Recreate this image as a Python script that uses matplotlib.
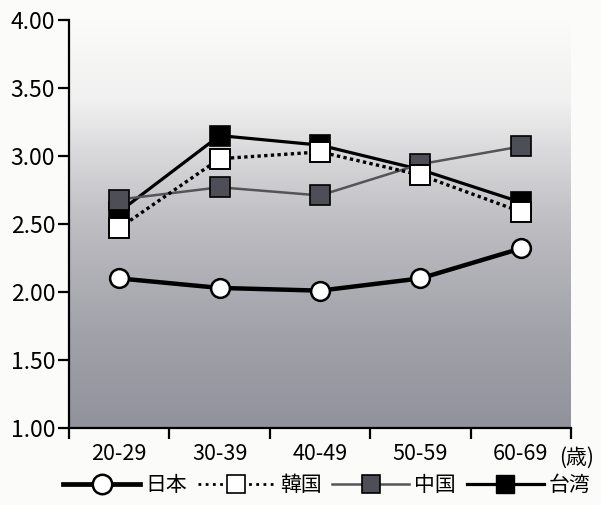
import matplotlib
matplotlib.use("Agg")
import matplotlib.pyplot as plt
import numpy as np
from matplotlib.lines import Line2D
from matplotlib.colors import LinearSegmentedColormap

plt.rcParams['font.family'] = ['Noto Sans CJK JP', 'DejaVu Sans']

# Data
age_groups = ["20-29", "30-39", "40-49", "50-59", "60-69"]
japan = [2.10, 2.03, 2.01, 2.10, 2.32]
korea = [2.47, 2.98, 3.03, 2.86, 2.59]
china = [2.68, 2.77, 2.71, 2.94, 3.07]
taiwan = [2.59, 3.15, 3.08, 2.90, 2.66]
series_names = ["日本", "韓国", "中国", "台湾"]
y_ticks = [1.00, 1.50, 2.00, 2.50, 3.00, 3.50, 4.00]

fig = plt.figure(figsize=(6.01, 5.05), dpi=100)
fig.patch.set_facecolor("#fbfbf9")
ax = fig.add_axes([69/601, 1-428/505, (571-69)/601, (428-20)/505])

x = np.arange(len(age_groups))
ax.set_xlim(-0.5, len(age_groups) - 0.5)
ax.set_ylim(1.0, 4.0)

# vertical gradient backdrop: white at the top fading to grey at the bottom
cmap = LinearSegmentedColormap.from_list(
    "bg", [(0.0, "#92929c"), (0.25, "#a3a3ab"), (0.5, "#bdbdc2"),
           (0.68, "#dadadc"), (0.8, "#f0f0f0"), (1.0, "#fbfbf9")])
grad = np.linspace(0, 1, 256).reshape(-1, 1)
ax.imshow(grad, cmap=cmap, aspect="auto", origin="lower",
          extent=[-0.5, len(age_groups) - 0.5, 1.0, 4.0], zorder=0)
ax.set_facecolor("none")

ms_sq = 14.5
ax.plot(x, taiwan, color="black", lw=2.3, marker="s", ms=ms_sq,
        mfc="black", mec="black", mew=1.2, zorder=3)
ax.plot(x, china, color="#555558", lw=1.8, marker="s", ms=ms_sq,
        mfc="#4e4e56", mec="black", mew=1.2, zorder=4)
ax.plot(x, korea, color="black", lw=2.4, ls=(0, (1, 1)), marker="s", ms=ms_sq,
        mfc="white", mec="black", mew=1.4, zorder=5)
ax.plot(x, japan, color="black", lw=3.2, marker="o", ms=13.5,
        mfc="white", mec="black", mew=1.8, zorder=6)

for side in ["top", "right"]:
    ax.spines[side].set_visible(False)
for side in ["left", "bottom"]:
    ax.spines[side].set_linewidth(1.6)
    ax.spines[side].set_zorder(7)

ax.set_yticks(y_ticks)
ax.set_yticklabels([f"{v:.2f}" for v in y_ticks])
ax.tick_params(axis="y", length=8, width=1.6, labelsize=16.5, pad=2)

ax.set_xticks(x)
ax.set_xticklabels(age_groups)
ax.set_xticks(np.arange(-0.5, len(age_groups)), minor=True)
ax.tick_params(axis="x", which="major", length=0, labelsize=15.5, pad=11)
ax.tick_params(axis="x", which="minor", length=8, width=1.6)

fig.text(559/601, 1-458/505, "(歳)", fontsize=15, va="center", ha="left")

handles = [
    Line2D([], [], color="black", lw=3.4, marker="o", ms=14, mfc="white",
           mec="black", mew=1.8),
    Line2D([], [], color="black", lw=2.0, ls=(0, (1, 1.6)), marker="s", ms=13.5,
           mfc="white", mec="black", mew=1.2),
    Line2D([], [], color="#555558", lw=1.8, marker="s", ms=13.5, mfc="#4e4e56",
           mec="black", mew=1.2),
    Line2D([], [], color="black", lw=2.3, marker="s", ms=13.5, mfc="black",
           mec="black"),
]
fig.legend(handles, series_names, loc="center", ncol=4,
           bbox_to_anchor=(327/601, 1-485/505), frameon=False,
           fontsize=15, handlelength=3.7, handletextpad=0.25,
           columnspacing=0.5, borderpad=0)

fig.savefig("out.png", dpi=100, facecolor=fig.get_facecolor())
